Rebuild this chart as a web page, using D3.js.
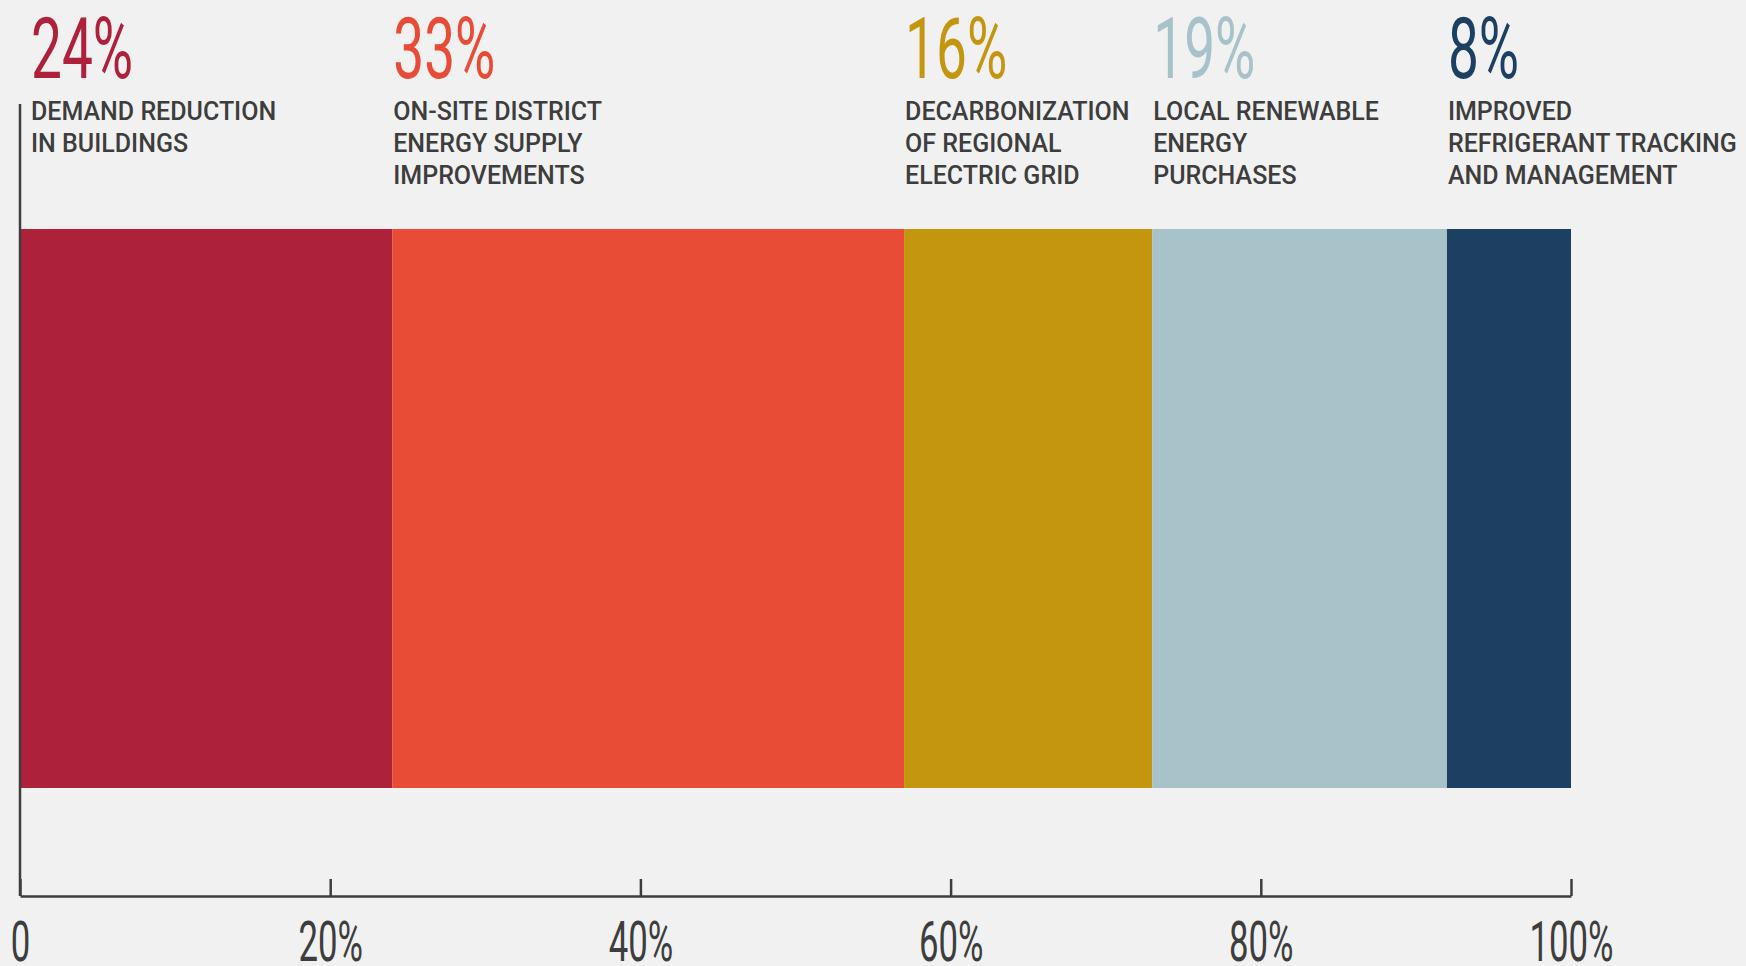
<!DOCTYPE html>
<html>
<head>
<meta charset="utf-8">
<script src="https://cdn.jsdelivr.net/npm/d3@7"></script>
<style>
  html, body { margin: 0; padding: 0; background: #f1f1f1; overflow: hidden; }
</style>
</head>
<body>
<div id="chart"></div>
<script>
const WIDTH = 1746;
const HEIGHT = 966;

// data
const categories = ['demand', 'onsite', 'grid', 'renewable', 'refrigerant'];
const shares = [24, 33, 16, 19, 8];
const labels = [
  ['DEMAND REDUCTION', 'IN BUILDINGS'],
  ['ON-SITE DISTRICT', 'ENERGY SUPPLY', 'IMPROVEMENTS'],
  ['DECARBONIZATION', 'OF REGIONAL', 'ELECTRIC GRID'],
  ['LOCAL RENEWABLE', 'ENERGY', 'PURCHASES'],
  ['IMPROVED', 'REFRIGERANT TRACKING', 'AND MANAGEMENT'],
];
const colors = ['#ae213b', '#e84c36', '#c4950f', '#a7c3c9', '#1c3f62'];
const tickValues = [0, 20, 40, 60, 80, 100];

const MARGIN = { left: 20, right: 175, axisY: 896, barTop: 229, barBottom: 788, axisTop: 104 };

const svg = d3.select('#chart')
  .append('svg')
  .attr('width', WIDTH)
  .attr('height', HEIGHT)

svg.append('rect')
  .attr('width', WIDTH)
  .attr('height', HEIGHT)
  .attr('fill', '#f1f1f1')

const x = d3.scaleLinear()
  .domain([0, 100])
  .range([MARGIN.left, WIDTH - MARGIN.right])

// condensed look: squeeze the glyphs with textLength
function condense(sel, k) {
  sel.attr('lengthAdjust', 'spacingAndGlyphs')
    .attr('textLength', function () { return this.getComputedTextLength() * k })
}

// stack the shares
let acc = 0
const data = categories.map((c, i) => {
  const d = { key: c, value: shares[i], start: acc, lines: labels[i], color: colors[i] }
  acc += shares[i]
  return d
})

// bars
svg.selectAll('rect.seg')
  .data(data, d => d.key)
  .join('rect')
  .attr('class', 'seg')
  .attr('x', d => x(d.start))
  .attr('width', d => x(d.start + d.value) - x(d.start))
  .attr('y', MARGIN.barTop)
  .attr('height', MARGIN.barBottom - MARGIN.barTop)
  .attr('fill', d => d.color)

// big percentages + descriptions
const labelX = d => Math.max(x(d.start) + 1, MARGIN.left + 11)

const groups = svg.selectAll('g.lab')
  .data(data, d => d.key)
  .join('g')
  .attr('class', 'lab')
  .attr('transform', d => `translate(${labelX(d)},0)`)

groups.append('text')
  .attr('y', 78)
  .attr('font-family', 'Roboto')
  .attr('font-weight', 400)
  .attr('font-size', 86)
  .attr('fill', d => d.color)
  .text(d => d.value + '%')
  .call(condense, 0.64)

groups.each(function (d) {
  d3.select(this).selectAll('text.desc')
    .data(d.lines)
    .join('text')
    .attr('class', 'desc')
    .attr('x', 0)
    .attr('y', (_, i) => 120 + i * 32)
    .attr('font-family', 'Roboto')
    .attr('font-weight', 500)
    .attr('font-size', 25)
    .attr('fill', '#3d3d3d')
    .text(t => t)
})

// axes
svg.append('line')
  .attr('x1', x(0))
  .attr('x2', x(0))
  .attr('y1', MARGIN.axisTop)
  .attr('y2', MARGIN.axisY)
  .attr('stroke', '#3d3d3d')
  .attr('stroke-width', 2.5)

const xAxis = d3.axisBottom(x)
  .tickValues(tickValues)
  .tickSizeInner(-17)
  .tickSizeOuter(0)
  .tickFormat(d => d === 0 ? '0' : d + '%')

const axisG = svg.append('g')
  .attr('transform', `translate(0,${MARGIN.axisY})`)
  .call(xAxis)

axisG.select('.domain')
  .attr('stroke', '#3d3d3d')
  .attr('stroke-width', 2.5)

axisG.selectAll('.tick line')
  .attr('stroke', '#3d3d3d')
  .attr('stroke-width', 2.5)

axisG.selectAll('.tick text')
  .attr('y', 65)
  .attr('dy', null)
  .attr('font-family', 'Roboto')
  .attr('font-weight', 400)
  .attr('font-size', 56)
  .attr('fill', '#3d3d3d')
  .attr('text-anchor', 'middle')
  .call(condense, 0.62)
</script>
</body>
</html>
